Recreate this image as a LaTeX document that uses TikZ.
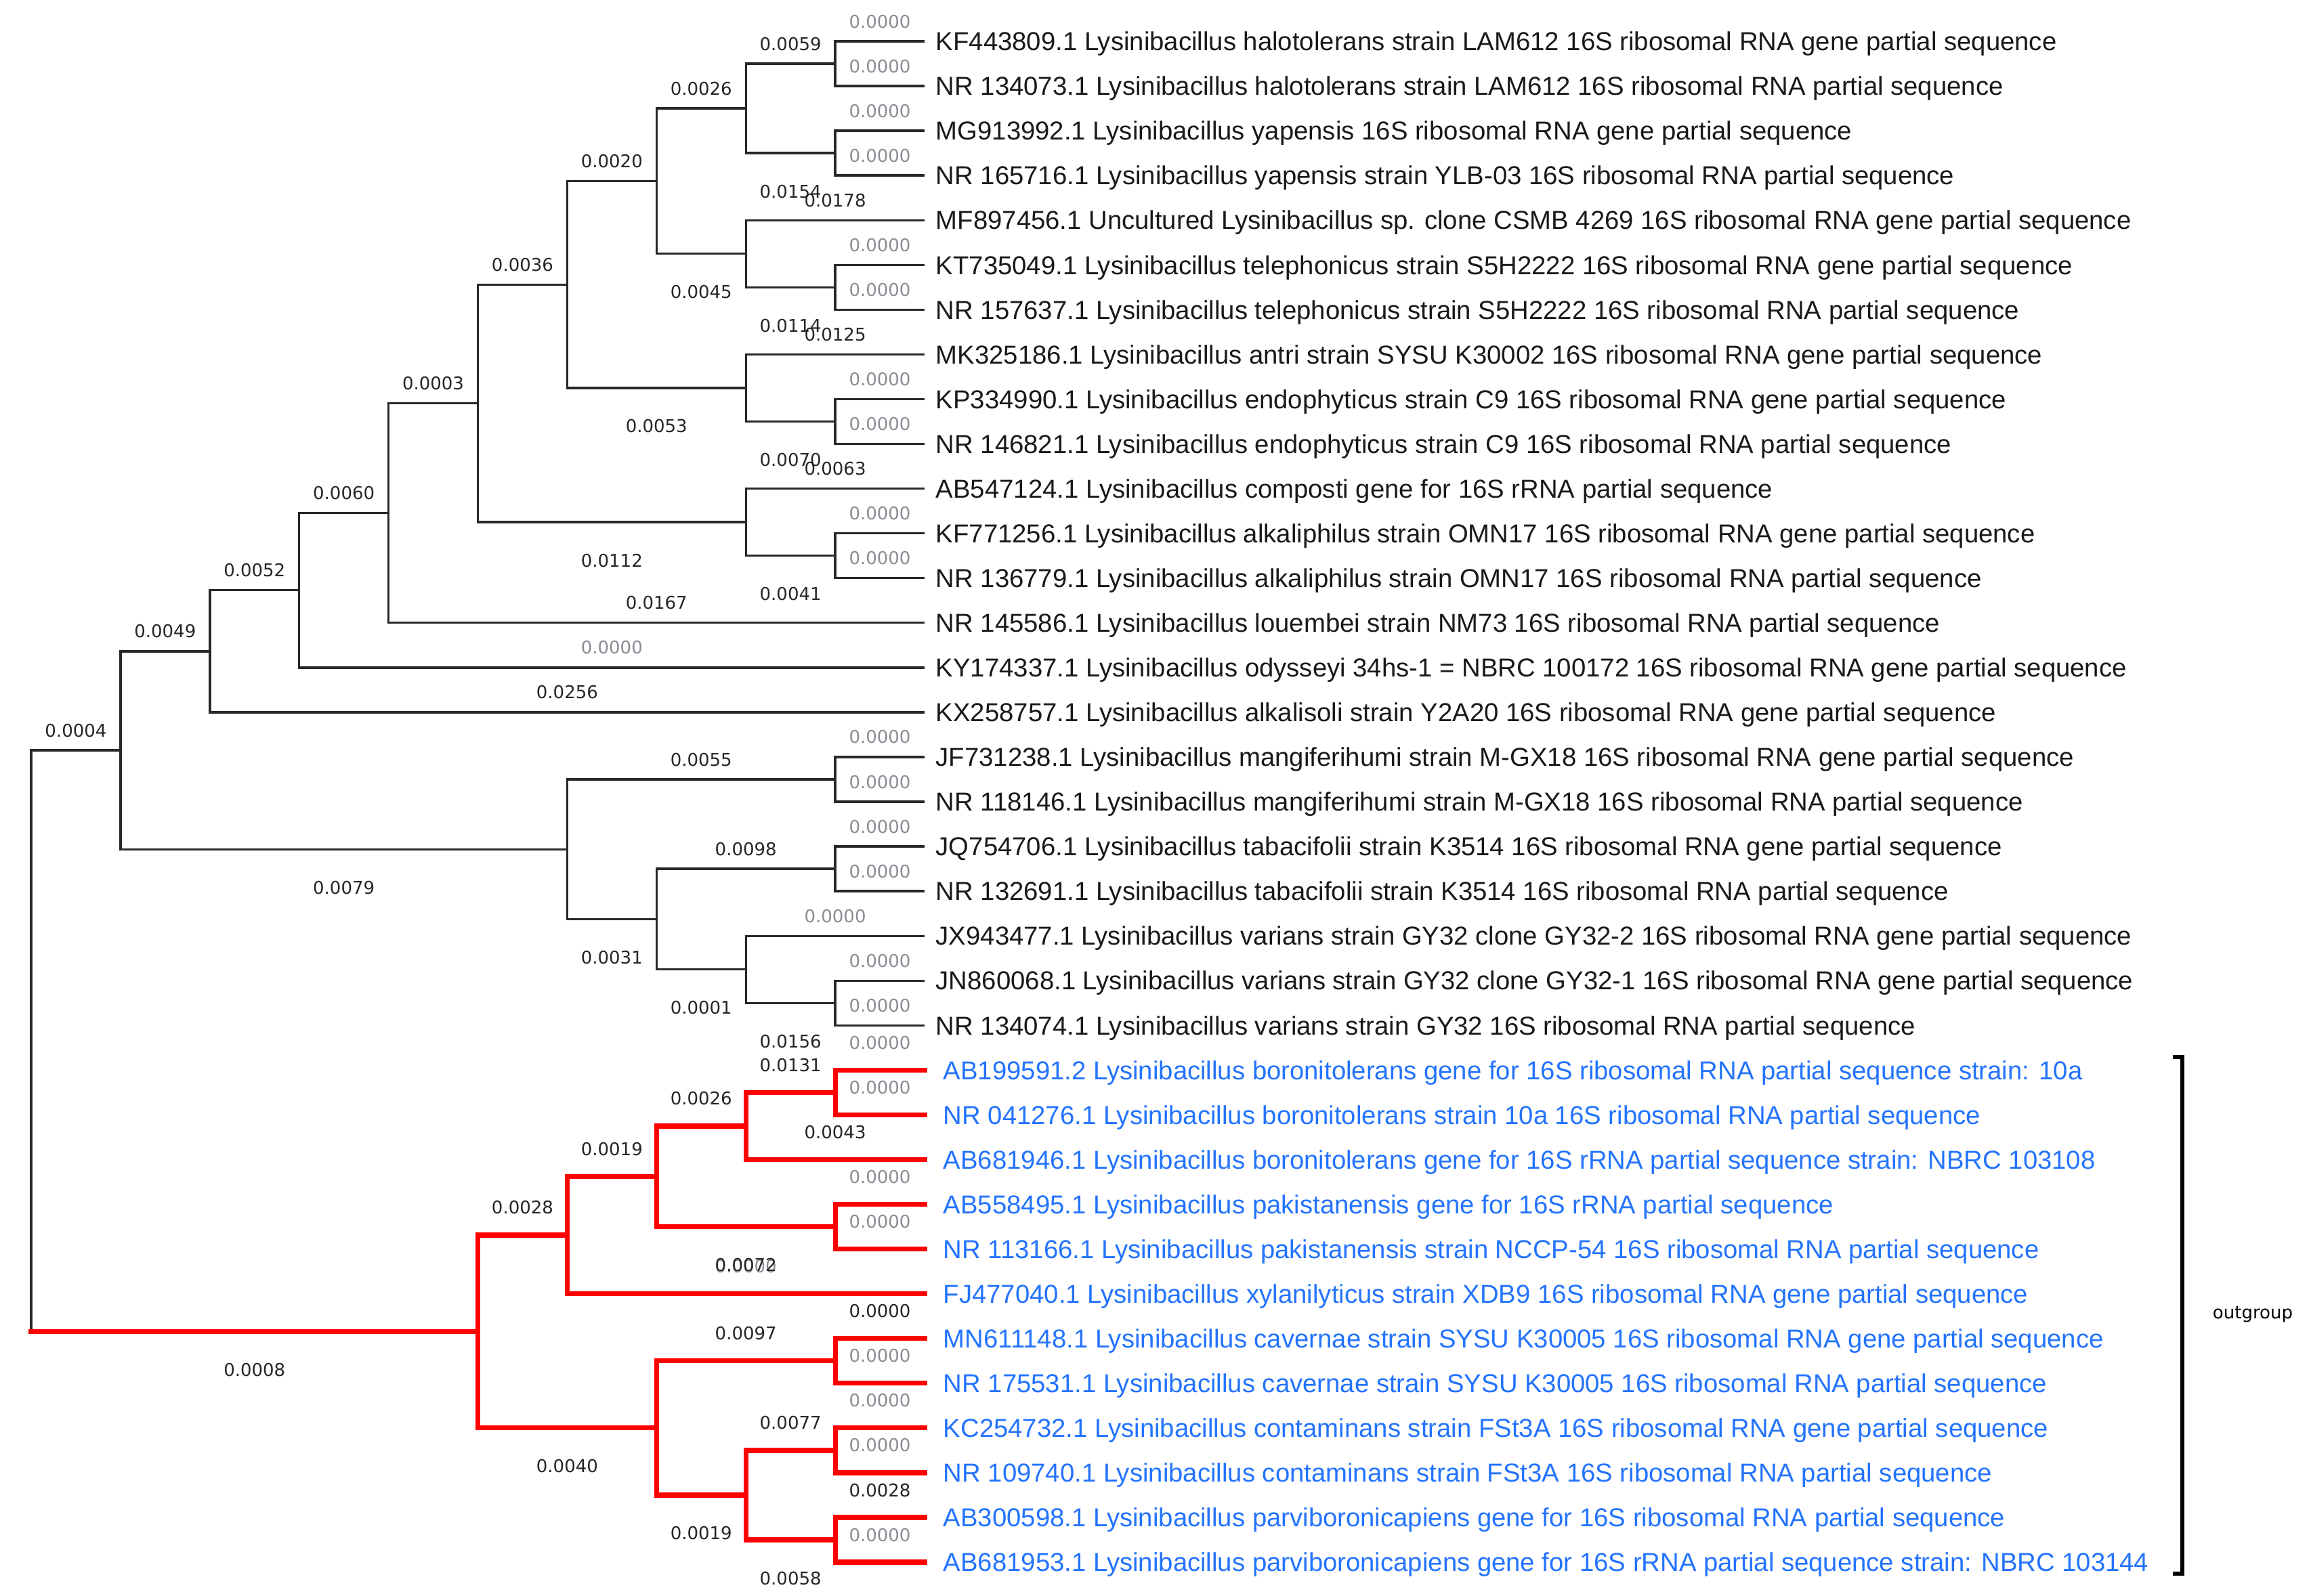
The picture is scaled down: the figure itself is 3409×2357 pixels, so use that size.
\documentclass[tikz,border=0pt]{standalone}
\usepackage{fontspec}
\setmainfont{Liberation Sans}
\newfontfamily\labfont{DejaVu Sans}
\usetikzlibrary{calc}
\definecolor{treeblue}{RGB}{35,115,255}
\definecolor{treered}{RGB}{255,0,0}
\definecolor{zerogrey}{RGB}{140,140,150}
\definecolor{linegrey}{RGB}{40,40,40}
\newcommand\colx[1]{46+131.9*#1}
\newcommand\rowy[1]{61+66.06*#1}
\newcommand\bl[5]{\node[#5] (#1) at ($(#2 |- #3)!0.5!(#3)$) {#4};}
\begin{document}
\begin{tikzpicture}[x=0.25pt,y=-0.25pt,
  br/.style={draw=linegrey, line width=0.85pt},
  rbr/.style={draw=treered, line width=1.8pt, line cap=rect},
  lab/.style={font=\labfont\fontsize{6.5pt}{7pt}\selectfont, inner sep=0pt, anchor=base, text=black!85},
  labup/.style={lab, yshift=5pt},
  labupz/.style={labup, text=zerogrey},
  labred/.style={lab, yshift=7.75pt},
  labredz/.style={labred, text=zerogrey},
  labdn/.style={lab, yshift=-16.5pt},
  leaf/.style={anchor=base west, inner sep=0pt, font=\fontsize{9.575pt}{11pt}\selectfont, text=black!90, xshift=4pt, yshift=-3.43pt},
  bleaf/.style={leaf, text=treeblue, xshift=2.75pt}]
\fill[white] (0,0) rectangle (3409,2357);
\useasboundingbox (0,0) rectangle (3409,2357);
% leaf ends
\foreach \i in {0,...,34} {\coordinate (l\i) at (1365,{\rowy{\i}});}
% internal nodes
\coordinate (R)  at ({\colx{0}},{\rowy{22.3467}});
\coordinate (Rb) at ({\colx{0}},{\rowy{28.84375}});
\coordinate (A)  at ({\colx{1}},{\rowy{15.8496}});
\coordinate (B)  at ({\colx{2}},{\rowy{13.63672}});
\coordinate (C)  at ({\colx{3}},{\rowy{12.27344}});
\coordinate (D)  at ({\colx{4}},{\rowy{10.546875}});
\coordinate (E)  at ({\colx{5}},{\rowy{8.09375}});
\coordinate (F)  at ({\colx{6}},{\rowy{5.4375}});
\coordinate (G)  at ({\colx{7}},{\rowy{3.125}});
\coordinate (H)  at ({\colx{8}},{\rowy{1.5}});
\coordinate (H1) at ({\colx{9}},{\rowy{0.5}});
\coordinate (H2) at ({\colx{9}},{\rowy{2.5}});
\coordinate (I)  at ({\colx{8}},{\rowy{4.75}});
\coordinate (I1) at ({\colx{9}},{\rowy{5.5}});
\coordinate (J)  at ({\colx{8}},{\rowy{7.75}});
\coordinate (J1) at ({\colx{9}},{\rowy{8.5}});
\coordinate (K)  at ({\colx{8}},{\rowy{10.75}});
\coordinate (K1) at ({\colx{9}},{\rowy{11.5}});
\coordinate (M)  at ({\colx{6}},{\rowy{18.0625}});
\coordinate (N)  at ({\colx{9}},{\rowy{16.5}});
\coordinate (P)  at ({\colx{7}},{\rowy{19.625}});
\coordinate (Q)  at ({\colx{9}},{\rowy{18.5}});
\coordinate (S)  at ({\colx{8}},{\rowy{20.75}});
\coordinate (T)  at ({\colx{9}},{\rowy{21.5}});
\coordinate (O)  at ({\colx{5}},{\rowy{28.84375}});
\coordinate (O1) at ({\colx{6}},{\rowy{26.6875}});
\coordinate (O3) at ({\colx{7}},{\rowy{25.375}});
\coordinate (O4) at ({\colx{8}},{\rowy{24.25}});
\coordinate (O6) at ({\colx{9}},{\rowy{23.5}});
\coordinate (O5) at ({\colx{9}},{\rowy{26.5}});
\coordinate (O2) at ({\colx{7}},{\rowy{31}});
\coordinate (O7) at ({\colx{9}},{\rowy{29.5}});
\coordinate (O8) at ({\colx{8}},{\rowy{32.5}});
\coordinate (O9) at ({\colx{9}},{\rowy{31.5}});
\coordinate (O10) at ({\colx{9}},{\rowy{33.5}});
% black branches
\draw[br] (A) -| (R) |- (Rb);
\draw[br] (B) -| (A) |- (M);
\draw[br] (C) -| (B) |- (l15);
\draw[br] (D) -| (C) |- (l14);
\draw[br] (E) -| (D) |- (l13);
\draw[br] (F) -| (E) |- (K);
\draw[br] (G) -| (F) |- (J);
\draw[br] (H) -| (G) |- (I);
\draw[br] (H1) -| (H) |- (H2);
\draw[br] (l0) -| (H1) |- (l1);
\draw[br] (l2) -| (H2) |- (l3);
\draw[br] (l4) -| (I) |- (I1);
\draw[br] (l5) -| (I1) |- (l6);
\draw[br] (l7) -| (J) |- (J1);
\draw[br] (l8) -| (J1) |- (l9);
\draw[br] (l10) -| (K) |- (K1);
\draw[br] (l11) -| (K1) |- (l12);
\draw[br] (N) -| (M) |- (P);
\draw[br] (l16) -| (N) |- (l17);
\draw[br] (Q) -| (P) |- (S);
\draw[br] (l18) -| (Q) |- (l19);
\draw[br] (l20) -| (S) |- (T);
\draw[br] (l21) -| (T) |- (l22);
% red branches
\draw[rbr] (Rb) -- (O);
\draw[rbr] (O1) -| (O) |- (O2);
\draw[rbr] (O3) -| (O1) |- (l28);
\draw[rbr] (O4) -| (O3) |- (O5);
\draw[rbr] (O6) -| (O4) |- (l25);
\draw[rbr] (l23) -| (O6) |- (l24);
\draw[rbr] (l26) -| (O5) |- (l27);
\draw[rbr] (O7) -| (O2) |- (O8);
\draw[rbr] (l29) -| (O7) |- (l30);
\draw[rbr] (O9) -| (O8) |- (O10);
\draw[rbr] (l31) -| (O9) |- (l32);
\draw[rbr] (l33) -| (O10) |- (l34);
% leaf branch labels
\bl{z0}{H1}{l0}{0.0000}{labupz}
\bl{z1}{H1}{l1}{0.0000}{labupz}
\bl{z2}{H2}{l2}{0.0000}{labupz}
\bl{z3}{H2}{l3}{0.0000}{labupz}
\bl{z4}{I}{l4}{0.0178}{labup}
\bl{z5}{I1}{l5}{0.0000}{labupz}
\bl{z6}{I1}{l6}{0.0000}{labupz}
\bl{z7}{J}{l7}{0.0125}{labup}
\bl{z8}{J1}{l8}{0.0000}{labupz}
\bl{z9}{J1}{l9}{0.0000}{labupz}
\bl{z10}{K}{l10}{0.0063}{labup}
\bl{z11}{K1}{l11}{0.0000}{labupz}
\bl{z12}{K1}{l12}{0.0000}{labupz}
\bl{z13}{D}{l13}{0.0167}{labup}
\bl{z14}{C}{l14}{0.0000}{labupz}
\bl{z15}{B}{l15}{0.0256}{labup}
\bl{z16}{N}{l16}{0.0000}{labupz}
\bl{z17}{N}{l17}{0.0000}{labupz}
\bl{z18}{Q}{l18}{0.0000}{labupz}
\bl{z19}{Q}{l19}{0.0000}{labupz}
\bl{z20}{S}{l20}{0.0000}{labupz}
\bl{z21}{T}{l21}{0.0000}{labupz}
\bl{z22}{T}{l22}{0.0000}{labupz}
\bl{z23}{O6}{l23}{0.0000}{labredz}
\bl{z24}{O6}{l24}{0.0000}{labredz}
\bl{z25}{O4}{l25}{0.0043}{labred}
\bl{z26}{O5}{l26}{0.0000}{labredz}
\bl{z27}{O5}{l27}{0.0000}{labredz}
\bl{z28}{O1}{l28}{0.0000}{labredz}
\bl{z29}{O7}{l29}{0.0000}{labred}
\bl{z30}{O7}{l30}{0.0000}{labredz}
\bl{z31}{O9}{l31}{0.0000}{labredz}
\bl{z32}{O9}{l32}{0.0000}{labredz}
\bl{z33}{O10}{l33}{0.0028}{labred}
\bl{z34}{O10}{l34}{0.0000}{labredz}
% internal branch labels
\bl{b01}{R}{A}{0.0004}{labup}
\bl{b02}{R}{O}{0.0008}{labdn}
\bl{b03}{A}{B}{0.0049}{labup}
\bl{b04}{A}{M}{0.0079}{labdn}
\bl{b05}{B}{C}{0.0052}{labup}
\bl{b06}{C}{D}{0.0060}{labup}
\bl{b07}{D}{E}{0.0003}{labup}
\bl{b08}{E}{F}{0.0036}{labup}
\bl{b09}{E}{K}{0.0112}{labdn}
\bl{b10}{F}{G}{0.0020}{labup}
\bl{b11}{F}{J}{0.0053}{labdn}
\bl{b12}{G}{H}{0.0026}{labup}
\bl{b13}{G}{I}{0.0045}{labdn}
\bl{b14}{H}{H1}{0.0059}{labup}
\bl{b15}{H}{H2}{0.0154}{labdn}
\bl{b16}{I}{I1}{0.0114}{labdn}
\bl{b17}{J}{J1}{0.0070}{labdn}
\bl{b18}{K}{K1}{0.0041}{labdn}
\bl{b19}{M}{N}{0.0055}{labup}
\bl{b20}{M}{P}{0.0031}{labdn}
\bl{b21}{P}{Q}{0.0098}{labup}
\bl{b22}{P}{S}{0.0001}{labdn}
\bl{b23}{S}{T}{0.0156}{labdn}
\bl{b24}{O}{O1}{0.0028}{labred}
\bl{b25}{O}{O2}{0.0040}{labdn}
\bl{b26}{O1}{O3}{0.0019}{labred}
\bl{b27}{O3}{O4}{0.0026}{labred}
\bl{b28}{O3}{O5}{0.0072}{labdn}
\bl{b29}{O4}{O6}{0.0131}{labred}
\bl{b30}{O2}{O7}{0.0097}{labred}
\bl{b31}{O2}{O8}{0.0019}{labdn}
\bl{b32}{O8}{O9}{0.0077}{labred}
\bl{b33}{O8}{O10}{0.0058}{labdn}
% leaf names
\node[leaf] (t0) at (l0) {KF443809.1 Lysinibacillus halotolerans strain LAM612 16S ribosomal RNA gene partial sequence};
\node[leaf] (t1) at (l1) {NR 134073.1 Lysinibacillus halotolerans strain LAM612 16S ribosomal RNA partial sequence};
\node[leaf] (t2) at (l2) {MG913992.1 Lysinibacillus yapensis 16S ribosomal RNA gene partial sequence};
\node[leaf] (t3) at (l3) {NR 165716.1 Lysinibacillus yapensis strain YLB-03 16S ribosomal RNA partial sequence};
\node[leaf] (t4) at (l4) {MF897456.1 Uncultured Lysinibacillus sp. clone CSMB 4269 16S ribosomal RNA gene partial sequence};
\node[leaf] (t5) at (l5) {KT735049.1 Lysinibacillus telephonicus strain S5H2222 16S ribosomal RNA gene partial sequence};
\node[leaf] (t6) at (l6) {NR 157637.1 Lysinibacillus telephonicus strain S5H2222 16S ribosomal RNA partial sequence};
\node[leaf] (t7) at (l7) {MK325186.1 Lysinibacillus antri strain SYSU K30002 16S ribosomal RNA gene partial sequence};
\node[leaf] (t8) at (l8) {KP334990.1 Lysinibacillus endophyticus strain C9 16S ribosomal RNA gene partial sequence};
\node[leaf] (t9) at (l9) {NR 146821.1 Lysinibacillus endophyticus strain C9 16S ribosomal RNA partial sequence};
\node[leaf] (t10) at (l10) {AB547124.1 Lysinibacillus composti gene for 16S rRNA partial sequence};
\node[leaf] (t11) at (l11) {KF771256.1 Lysinibacillus alkaliphilus strain OMN17 16S ribosomal RNA gene partial sequence};
\node[leaf] (t12) at (l12) {NR 136779.1 Lysinibacillus alkaliphilus strain OMN17 16S ribosomal RNA partial sequence};
\node[leaf] (t13) at (l13) {NR 145586.1 Lysinibacillus louembei strain NM73 16S ribosomal RNA partial sequence};
\node[leaf] (t14) at (l14) {KY174337.1 Lysinibacillus odysseyi 34hs-1 = NBRC 100172 16S ribosomal RNA gene partial sequence};
\node[leaf] (t15) at (l15) {KX258757.1 Lysinibacillus alkalisoli strain Y2A20 16S ribosomal RNA gene partial sequence};
\node[leaf] (t16) at (l16) {JF731238.1 Lysinibacillus mangiferihumi strain M-GX18 16S ribosomal RNA gene partial sequence};
\node[leaf] (t17) at (l17) {NR 118146.1 Lysinibacillus mangiferihumi strain M-GX18 16S ribosomal RNA partial sequence};
\node[leaf] (t18) at (l18) {JQ754706.1 Lysinibacillus tabacifolii strain K3514 16S ribosomal RNA gene partial sequence};
\node[leaf] (t19) at (l19) {NR 132691.1 Lysinibacillus tabacifolii strain K3514 16S ribosomal RNA partial sequence};
\node[leaf] (t20) at (l20) {JX943477.1 Lysinibacillus varians strain GY32 clone GY32-2 16S ribosomal RNA gene partial sequence};
\node[leaf] (t21) at (l21) {JN860068.1 Lysinibacillus varians strain GY32 clone GY32-1 16S ribosomal RNA gene partial sequence};
\node[leaf] (t22) at (l22) {NR 134074.1 Lysinibacillus varians strain GY32 16S ribosomal RNA partial sequence};
\node[bleaf] (t23) at (l23) {AB199591.2 Lysinibacillus boronitolerans gene for 16S ribosomal RNA partial sequence strain: 10a};
\node[bleaf] (t24) at (l24) {NR 041276.1 Lysinibacillus boronitolerans strain 10a 16S ribosomal RNA partial sequence};
\node[bleaf] (t25) at (l25) {AB681946.1 Lysinibacillus boronitolerans gene for 16S rRNA partial sequence strain: NBRC 103108};
\node[bleaf] (t26) at (l26) {AB558495.1 Lysinibacillus pakistanensis gene for 16S rRNA partial sequence};
\node[bleaf] (t27) at (l27) {NR 113166.1 Lysinibacillus pakistanensis strain NCCP-54 16S ribosomal RNA partial sequence};
\node[bleaf] (t28) at (l28) {FJ477040.1 Lysinibacillus xylanilyticus strain XDB9 16S ribosomal RNA gene partial sequence};
\node[bleaf] (t29) at (l29) {MN611148.1 Lysinibacillus cavernae strain SYSU K30005 16S ribosomal RNA gene partial sequence};
\node[bleaf] (t30) at (l30) {NR 175531.1 Lysinibacillus cavernae strain SYSU K30005 16S ribosomal RNA partial sequence};
\node[bleaf] (t31) at (l31) {KC254732.1 Lysinibacillus contaminans strain FSt3A 16S ribosomal RNA gene partial sequence};
\node[bleaf] (t32) at (l32) {NR 109740.1 Lysinibacillus contaminans strain FSt3A 16S ribosomal RNA partial sequence};
\node[bleaf] (t33) at (l33) {AB300598.1 Lysinibacillus parviboronicapiens gene for 16S ribosomal RNA partial sequence};
\node[bleaf] (t34) at (l34) {AB681953.1 Lysinibacillus parviboronicapiens gene for 16S rRNA partial sequence strain: NBRC 103144};
% outgroup bracket
\coordinate (bk1) at (3208,1561);
\coordinate (bk2) at (3222,1561);
\coordinate (bk3) at (3222,2324);
\coordinate (bk4) at (3208,2324);
\draw[black, line width=1.5pt] (bk1) -- (bk2) -- (bk3) -- (bk4);
\node[lab, anchor=center, text=black] (og) at (3326,1941) {outgroup};
\end{tikzpicture}
\end{document}
